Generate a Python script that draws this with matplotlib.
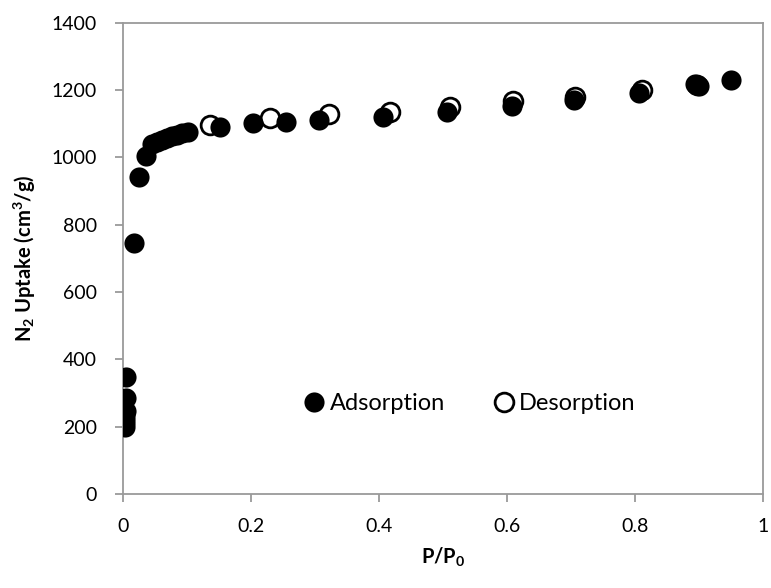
import matplotlib
matplotlib.use("Agg")
import matplotlib.pyplot as plt
from matplotlib.ticker import FuncFormatter

plt.rcParams['font.family'] = ['Lato', 'DejaVu Sans']
plt.rcParams['mathtext.fontset'] = 'custom'
plt.rcParams['mathtext.rm'] = 'Lato'
plt.rcParams['mathtext.bf'] = 'Lato:bold'

# Adsorption branch
ads_x = [0.002, 0.002, 0.003, 0.003, 0.004, 0.004, 0.004, 0.016, 0.025, 0.035,
         0.044, 0.052, 0.060, 0.068, 0.076, 0.084, 0.092, 0.101, 0.151,
         0.202, 0.254, 0.305, 0.406, 0.505, 0.607, 0.704, 0.806, 0.893, 0.899, 0.949]
ads_y = [200, 210, 222, 235, 246, 284, 348, 747, 941, 1004,
         1040, 1046, 1052, 1057, 1062, 1066, 1071, 1076, 1091,
         1101, 1106, 1111, 1121, 1136, 1153, 1169, 1191, 1217, 1211, 1230]

# Desorption branch
des_x = [0.135, 0.229, 0.322, 0.416, 0.511, 0.609, 0.706, 0.811, 0.897]
des_y = [1096, 1116, 1129, 1136, 1151, 1166, 1180, 1200, 1216]

x_ticks = [0, 0.2, 0.4, 0.6, 0.8, 1]
y_ticks = [0, 200, 400, 600, 800, 1000, 1200, 1400]

fig = plt.figure(figsize=(7.71, 5.88), dpi=100)
ax = fig.add_axes([0.16, 0.1599, 0.83, 0.8015])

ax.plot(des_x, des_y, linestyle='none', marker='o', markersize=13.5,
        markerfacecolor='white', markeredgecolor='black', markeredgewidth=2,
        label='Desorption', zorder=2)
ax.plot(ads_x, ads_y, linestyle='none', marker='o', markersize=14.5,
        markerfacecolor='black', markeredgecolor='black', markeredgewidth=0,
        label='Adsorption', zorder=3)

ax.set_xlim(0, 1)
ax.set_ylim(0, 1400)
ax.set_xticks(x_ticks)
ax.set_yticks(y_ticks)
ax.xaxis.set_major_formatter(FuncFormatter(lambda v, p: f"{v:g}"))
ax.yaxis.set_major_formatter(FuncFormatter(lambda v, p: f"{v:g}"))

for s in ax.spines.values():
    s.set_color('#9a9a9a')
    s.set_linewidth(1.3)
ax.tick_params(axis='both', direction='out', length=6, width=1.3,
               color='#9a9a9a', labelsize=14, labelcolor='black')
ax.tick_params(axis='y', pad=13)
ax.tick_params(axis='x', pad=11)

ax.set_xlabel(r'P/P$_\mathbf{0}$', fontsize=14.5, fontweight='bold', labelpad=8)
ax.set_ylabel(r'N$_\mathbf{2}$ Uptake (cm$^\mathbf{3}$/g)', fontsize=14.5,
              fontweight='bold', labelpad=10)

handles, labels = ax.get_legend_handles_labels()
leg = ax.legend([handles[1], handles[0]], [labels[1], labels[0]],
                loc='center', bbox_to_anchor=(0.540, 0.191), ncol=2, frameon=False,
                fontsize=17, handletextpad=0.15, columnspacing=2.0,
                handlelength=1.0, borderpad=0, borderaxespad=0)

fig.savefig('out.png', dpi=100)
